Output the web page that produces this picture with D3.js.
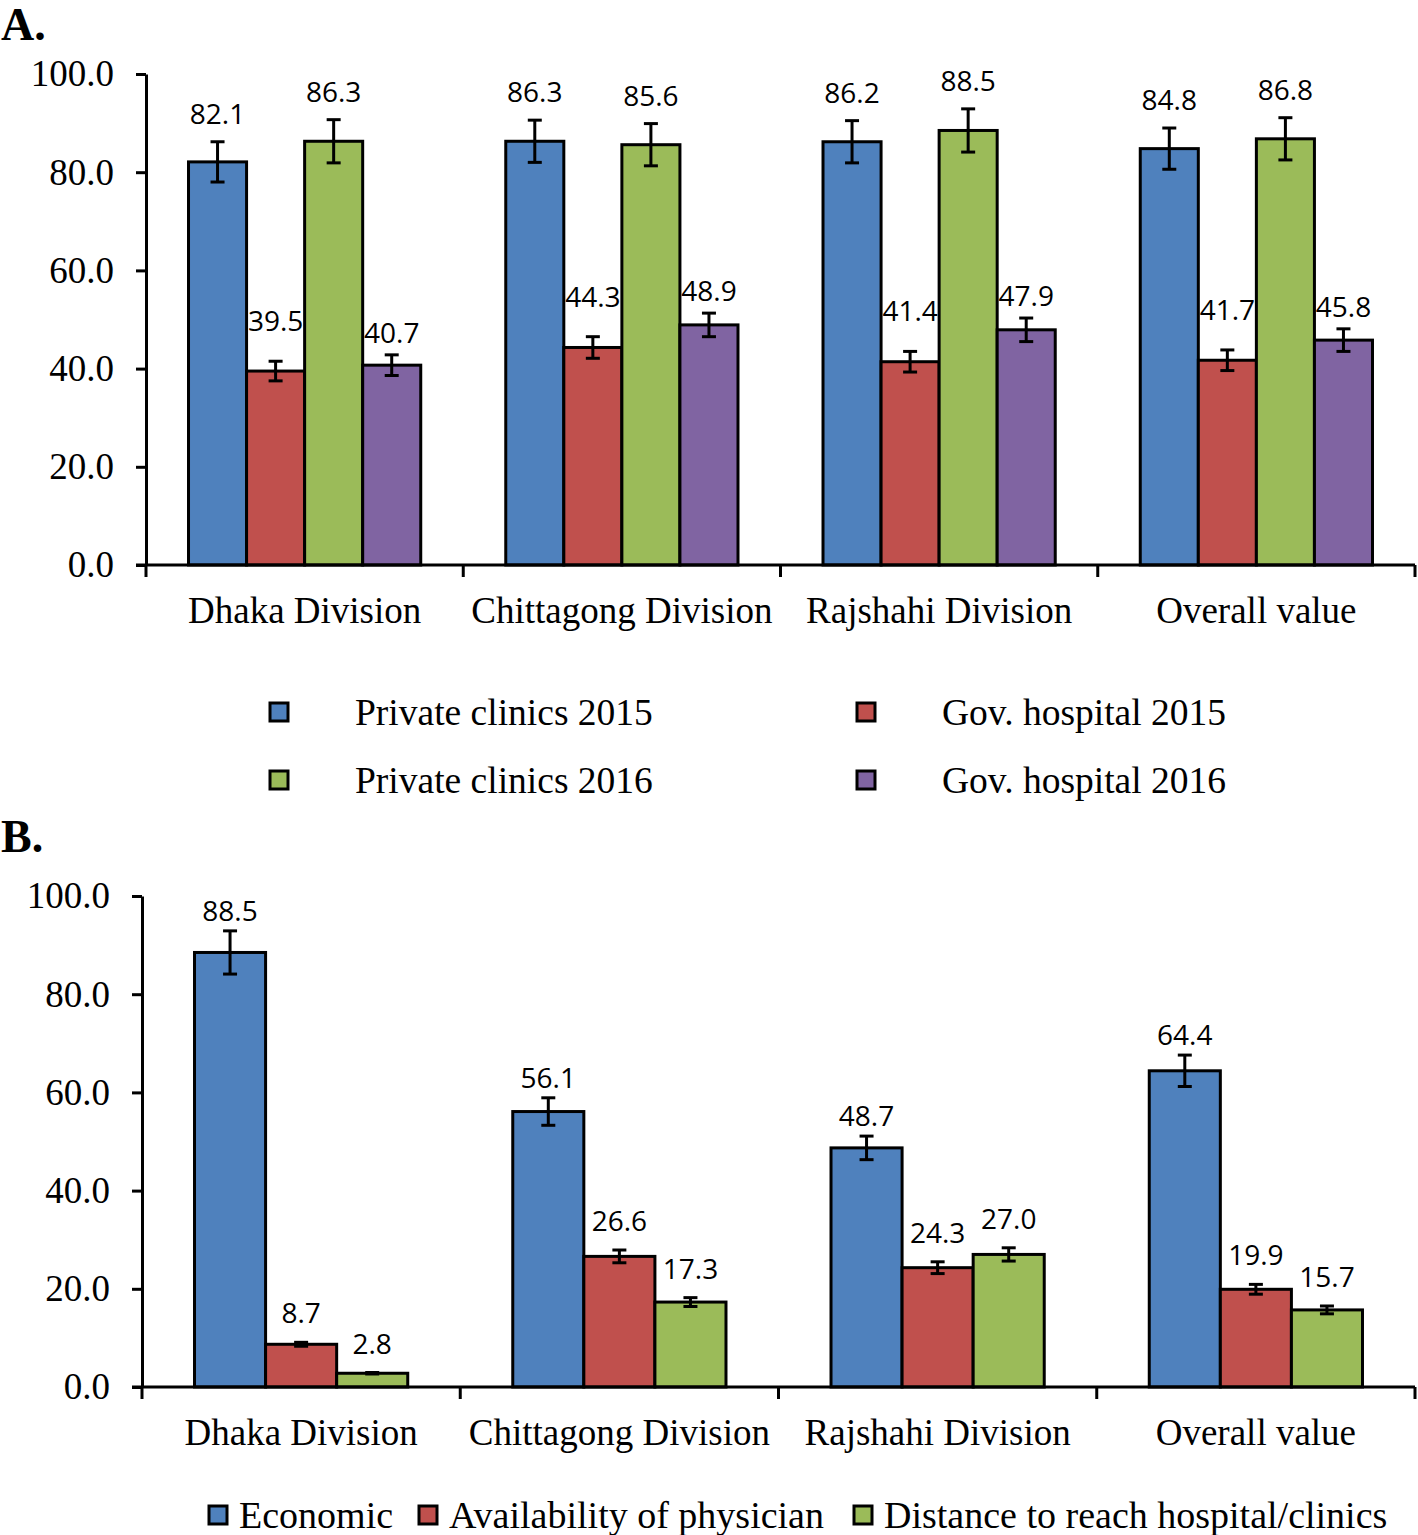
<!DOCTYPE html>
<html>
<head>
<meta charset="utf-8">
<script src="https://cdn.jsdelivr.net/npm/d3@7"></script>
<style>
  html, body { margin: 0; padding: 0; background: #fff; }
  svg { display: block; }
</style>
</head>
<body>
<svg id="chart" width="1418" height="1535"></svg>
<script>
// ---------- DATA ----------
const categories = ["Dhaka Division", "Chittagong Division", "Rajshahi Division", "Overall value"];
const yTicks = [0, 20, 40, 60, 80, 100];

// Panel A
const seriesA = ["Private clinics 2015", "Gov. hospital 2015", "Private clinics 2016", "Gov. hospital 2016"];
const privateClinics2015 = [82.1, 86.3, 86.2, 84.8];
const govHospital2015    = [39.5, 44.3, 41.4, 41.7];
const privateClinics2016 = [86.3, 85.6, 88.5, 86.8];
const govHospital2016    = [40.7, 48.9, 47.9, 45.8];
const errPrivate2015 = [4.1, 4.3, 4.3, 4.2];
const errGov2015     = [2.0, 2.2, 2.1, 2.1];
const errPrivate2016 = [4.4, 4.3, 4.4, 4.3];
const errGov2016     = [2.1, 2.4, 2.4, 2.3];

// Panel B
const seriesB = ["Economic", "Availability of physician", "Distance to reach hospital/clinics"];
const economic     = [88.5, 56.1, 48.7, 64.4];
const availability = [8.7, 26.6, 24.3, 19.9];
const distance     = [2.8, 17.3, 27.0, 15.7];
const errEconomic     = [4.4, 2.8, 2.4, 3.2];
const errAvailability = [0.4, 1.3, 1.2, 1.0];
const errDistance     = [0.15, 0.9, 1.35, 0.8];

// ---------- STYLE ----------
const colorsA = ["#4F81BD", "#C0504D", "#9BBB59", "#8064A2"];
const colorsB = ["#4F81BD", "#C0504D", "#9BBB59"];
const serif = "'Liberation Serif', 'Times New Roman', serif";
const sans = "'Open Sans', 'Noto Sans', sans-serif";

const svg = d3.select("#chart");

function panel(opts) {
  const { x0, x1, yTop, yBottom, pad, series, values, errors, colors, labelGap, title, titleY } = opts;
  const g = svg.append("g");
  const y = d3.scaleLinear().domain([0, 100]).range([yBottom, yTop]);
  const x = d3.scaleBand().domain(categories).range([x0, x1]).paddingInner(pad).paddingOuter(pad / 2);
  const xs = d3.scaleBand().domain(series).range([0, x.bandwidth()]);

  // title
  svg.append("text").attr("x", 1).attr("y", titleY)
    .attr("font-family", serif).attr("font-weight", "bold").attr("font-size", 46)
    .text(title);

  const rows = [];
  series.forEach((s, si) => {
    categories.forEach((c, ci) => {
      rows.push({ s, si, c, v: values[si][ci], e: errors[si][ci] });
    });
  });

  // bars
  g.selectAll("rect.bar").data(rows).join("rect")
    .attr("class", "bar")
    .attr("x", d => x(d.c) + xs(d.s))
    .attr("y", d => y(d.v))
    .attr("width", xs.bandwidth())
    .attr("height", d => y(0) - y(d.v))
    .attr("fill", d => colors[d.si])
    .attr("stroke", "#000").attr("stroke-width", 3);

  // error bars
  const eg = g.selectAll("g.err").data(rows).join("g").attr("class", "err")
    .attr("stroke", "#000").attr("stroke-width", 3);
  eg.append("line")
    .attr("x1", d => x(d.c) + xs(d.s) + xs.bandwidth() / 2)
    .attr("x2", d => x(d.c) + xs(d.s) + xs.bandwidth() / 2)
    .attr("y1", d => y(d.v + d.e)).attr("y2", d => y(d.v - d.e));
  [1, -1].forEach(sign => {
    eg.append("line")
      .attr("x1", d => x(d.c) + xs(d.s) + xs.bandwidth() / 2 - 7)
      .attr("x2", d => x(d.c) + xs(d.s) + xs.bandwidth() / 2 + 7)
      .attr("y1", d => y(d.v + sign * d.e)).attr("y2", d => y(d.v + sign * d.e));
  });

  // value labels
  g.selectAll("text.val").data(rows).join("text")
    .attr("class", "val")
    .attr("x", d => x(d.c) + xs(d.s) + xs.bandwidth() / 2)
    .attr("y", d => y(d.v + d.e) - labelGap[d.si])
    .attr("text-anchor", "middle")
    .attr("font-family", sans).attr("font-size", 28)
    .attr("fill", "#000")
    .text(d => d.v.toFixed(1));

  // y axis
  const ya = g.append("g").attr("transform", `translate(${x0},0)`)
    .call(d3.axisLeft(y).tickValues(yTicks).tickFormat(d3.format(".1f")).tickSize(10).tickSizeOuter(0).tickPadding(22));
  ya.select(".domain").attr("stroke", "#000").attr("stroke-width", 3);
  ya.selectAll(".tick line").attr("stroke", "#000").attr("stroke-width", 3);
  ya.selectAll(".tick text").attr("font-family", serif).attr("font-size", 37).attr("fill", "#000");

  // x axis (labels)
  const xa = g.append("g").attr("transform", `translate(0,${yBottom})`)
    .call(d3.axisBottom(x).tickSize(0).tickSizeOuter(0).tickPadding(32));
  xa.select(".domain").attr("stroke", "#000").attr("stroke-width", 3)
    .attr("d", `M${x0 - 10},0H${x1}`);
  xa.selectAll(".tick text").attr("font-family", serif).attr("font-size", 37).attr("fill", "#000")
    .attr("dy", "0.71em");

  // category boundary ticks
  const step = x.step();
  const bounds = d3.range(categories.length + 1).map(i => x0 + i * step);
  g.selectAll("line.bt").data(bounds).join("line").attr("class", "bt")
    .attr("x1", d => d).attr("x2", d => d)
    .attr("y1", yBottom).attr("y2", yBottom + 12)
    .attr("stroke", "#000").attr("stroke-width", 3);

  return { x, y };
}

panel({
  x0: 146, x1: 1415, yTop: 74, yBottom: 565, pad: 0.268,
  series: seriesA,
  values: [privateClinics2015, govHospital2015, privateClinics2016, govHospital2016],
  errors: [errPrivate2015, errGov2015, errPrivate2016, errGov2016],
  colors: colorsA, labelGap: [18, 30, 18, 12], title: "A.", titleY: 40
});

panel({
  x0: 142, x1: 1415, yTop: 896, yBottom: 1387, pad: 0.33,
  series: seriesB,
  values: [economic, availability, distance],
  errors: [errEconomic, errAvailability, errDistance],
  colors: colorsB, labelGap: [10, 19, 19], title: "B.", titleY: 852
});

// ---------- Legend A ----------
const legA = svg.append("g");
const legAPos = [[279, 712], [866, 712], [279, 780], [866, 780]];
seriesA.forEach((s, i) => {
  const [cx, cy] = legAPos[i];
  legA.append("rect").attr("x", cx - 9).attr("y", cy - 9).attr("width", 18).attr("height", 18)
    .attr("fill", colorsA[i]).attr("stroke", "#000").attr("stroke-width", 3);
  legA.append("text").attr("x", cx + 76).attr("y", cy).attr("dy", "0.35em")
    .attr("font-family", serif).attr("font-size", 37.5).attr("fill", "#000").text(s);
});

// ---------- Legend B ----------
const legB = svg.append("g");
const legBX = [218, 428, 863];
seriesB.forEach((s, i) => {
  const cx = legBX[i], cy = 1515;
  legB.append("rect").attr("x", cx - 9).attr("y", cy - 9).attr("width", 18).attr("height", 18)
    .attr("fill", colorsB[i]).attr("stroke", "#000").attr("stroke-width", 3);
  legB.append("text").attr("x", cx + 21).attr("y", cy).attr("dy", "0.35em")
    .attr("font-family", serif).attr("font-size", 38).attr("fill", "#000").text(s);
});
</script>
</body>
</html>
